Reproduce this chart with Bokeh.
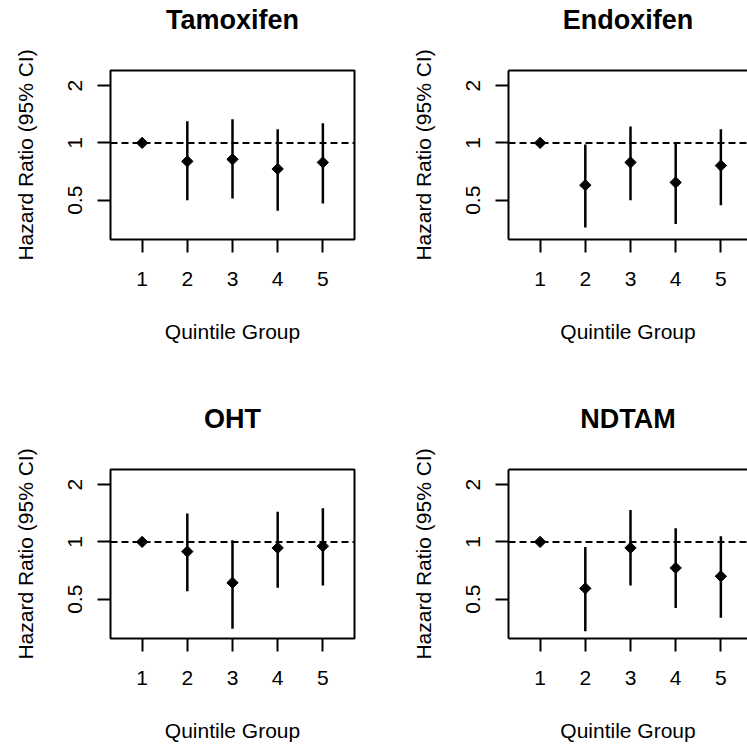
import math
from bokeh.plotting import figure
from bokeh.models import Range1d, FixedTicker, BasicTickFormatter, Span, LinearAxis
from bokeh.layouts import column, row
from bokeh.embed import file_html
from bokeh.resources import INLINE

nan = float("nan")

# ---- data ----
groups = [1, 2, 3, 4, 5]
x_ticks = [1, 2, 3, 4, 5]
y_ticks = [0.5, 1, 2]
y_tick_labels = {0.5: "0.5", 1: "1", 2: "2"}

tam_hr = [1.0, 0.80, 0.82, 0.73, 0.79]
tam_lo = [nan, 0.50, 0.51, 0.44, 0.48]
tam_hi = [nan, 1.30, 1.33, 1.18, 1.27]

endo_hr = [1.0, 0.60, 0.79, 0.62, 0.76]
endo_lo = [nan, 0.36, 0.50, 0.375, 0.47]
endo_hi = [nan, 0.98, 1.22, 1.00, 1.18]

oht_hr = [1.0, 0.89, 0.61, 0.93, 0.95]
oht_lo = [nan, 0.55, 0.35, 0.575, 0.59]
oht_hi = [nan, 1.41, 1.02, 1.44, 1.50]

ndtam_hr = [1.0, 0.57, 0.93, 0.73, 0.66]
ndtam_lo = [nan, 0.34, 0.59, 0.45, 0.40]
ndtam_hi = [nan, 0.94, 1.47, 1.18, 1.07]

titles = ["Tamoxifen", "Endoxifen", "OHT", "NDTAM"]
x_label = "Quintile Group"
y_label = "Hazard Ratio (95% CI)"
ref_value = 1.0

Y_LIM = (0.311, 2.40)
X_START = 0.3
X_END_FULL = 5.7
FRAME_W = 244

FONT = "Liberation Sans"
INK = "#000000"


def panel(title, hr, lo, hi, width, height, mb_left, mb_right, mb_top, mb_bottom, x_end, cut):
    p = figure(width=width, height=height,
               x_range=Range1d(X_START, x_end), y_range=Range1d(*Y_LIM),
               y_axis_type="log", output_backend="svg", toolbar_location=None,
               min_border_left=mb_left, min_border_right=mb_right,
               min_border_top=mb_top, min_border_bottom=mb_bottom,
               background_fill_color="white", border_fill_color="white")
    p.xgrid.visible = False
    p.ygrid.visible = False

    for ax in (p.xaxis[0], p.yaxis[0]):
        ax.major_tick_out = 13
        ax.major_tick_in = 0
        ax.minor_tick_line_color = None
        ax.major_tick_line_width = 2
        ax.major_tick_line_color = INK
        ax.major_label_text_font = FONT
        ax.major_label_text_font_size = "21px"
        ax.major_label_text_color = INK
        ax.axis_label_text_font = FONT
        ax.axis_label_text_font_size = "21px"
        ax.axis_label_text_font_style = "normal"
        ax.axis_label_text_color = INK
        ax.axis_line_width = 2
        ax.axis_line_color = INK if cut else None

    xa = p.xaxis[0]
    xa.ticker = FixedTicker(ticks=x_ticks)
    xa.axis_label = x_label
    xa.major_label_standoff = 19
    xa.axis_label_standoff = 31

    ya = p.yaxis[0]
    ya.ticker = FixedTicker(ticks=y_ticks)
    ya.formatter = BasicTickFormatter()
    ya.major_label_overrides = y_tick_labels
    ya.major_label_orientation = "parallel"
    ya.axis_label = y_label
    ya.major_label_standoff = 15
    ya.axis_label_standoff = 29

    # tick-less axis above the frame: top edge of the box (cut panels) and
    # the gap between the box and the title
    top_ax = LinearAxis(ticker=FixedTicker(ticks=[]), major_tick_out=0, major_tick_in=0,
                        minor_tick_out=0, minor_tick_in=0, major_label_standoff=0,
                        major_label_text_font_size="0px",
                        axis_label=" ", axis_label_text_font_size="1px",
                        axis_label_standoff=32,
                        major_tick_line_color=None, minor_tick_line_color=None,
                        axis_line_width=2, axis_line_color=INK if cut else None)
    p.add_layout(top_ax, "above")

    if cut:
        p.outline_line_color = None
    else:
        p.outline_line_color = INK
        p.outline_line_width = 2
        p.outline_line_alpha = 1.0

    p.title.text = title
    p.title.align = "center"
    p.title.vertical_align = "bottom"
    p.title.standoff = 0
    p.title.text_font = FONT
    p.title.text_font_size = "27px"
    p.title.text_font_style = "bold"
    p.title.text_color = INK

    p.add_layout(Span(location=ref_value, dimension="width", line_color=INK,
                      line_width=2, line_dash="7 4"))

    p.segment(x0=groups, y0=lo, x1=groups, y1=hi, line_color=INK, line_width=2.5)
    p.scatter(x=groups, y=hr, marker="square", size=8, angle=math.pi / 4,
              fill_color=INK, line_color=INK)
    return p


# right-hand panels are cut by the window edge
x_end_cut = X_START + 239 * (X_END_FULL - X_START) / FRAME_W

p1 = panel(titles[0], tam_hr, tam_lo, tam_hi, 399, 399, 110, 45, 70, 160, X_END_FULL, False)
p2 = panel(titles[1], endo_hr, endo_lo, endo_hi, 348, 399, 109, 0, 70, 160, x_end_cut, True)
p3 = panel(titles[2], oht_hr, oht_lo, oht_hi, 399, 349, 110, 45, 70, 110, X_END_FULL, False)
p4 = panel(titles[3], ndtam_hr, ndtam_lo, ndtam_hi, 348, 349, 109, 0, 70, 110, x_end_cut, True)

layout = column(row(p1, p2), row(p3, p4))

open("out.html", "w").write(file_html(layout, INLINE))
